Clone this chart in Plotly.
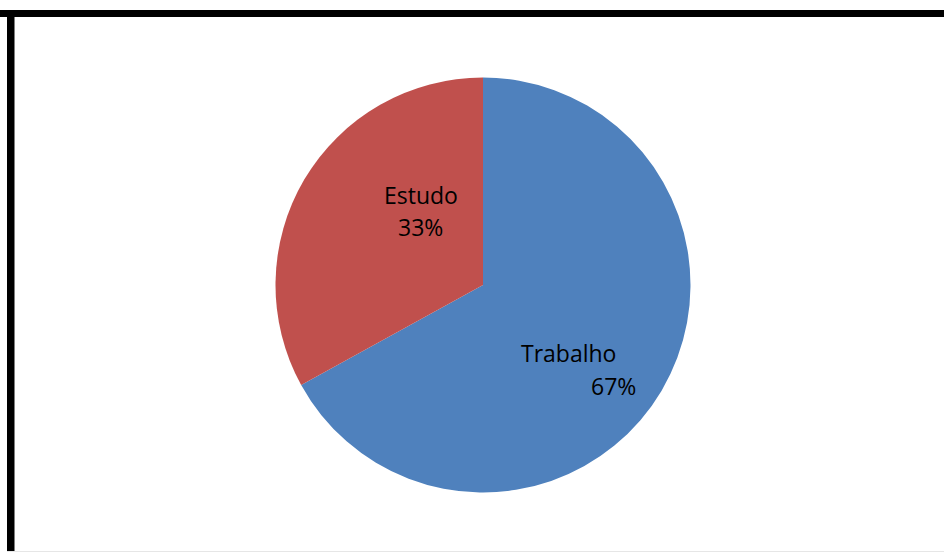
import plotly.graph_objects as go

# Share of time: work vs. study
categories = ["Trabalho", "Estudo"]
values = [67, 33]
colors = ["#4F81BD", "#C0504D"]

W, H = 944, 552
cx, cy, r = 483, 285, 207.5  # pie centre and radius in pixels


def px_x(x):
    return x / W


def px_y(y):
    return 1 - y / H


fig = go.Figure(
    go.Pie(
        labels=categories,
        values=values,
        marker=dict(colors=colors, line=dict(width=0)),
        sort=False,
        direction="clockwise",
        rotation=0,
        textinfo="none",
        hoverinfo="label+percent",
        showlegend=False,
        domain=dict(x=[px_x(cx - r), px_x(cx + r)], y=[px_y(cy + r), px_y(cy - r)]),
    )
)

total = sum(values)
pct = {c: f"{round(v / total * 100)}%" for c, v in zip(categories, values)}
label_font = dict(family="Open Sans, Noto Sans, sans-serif", size=23, color="#000000")

# Data labels: category name and percentage, one line each
label_pos = {
    "Estudo": ((421, 195), (420, 227)),
    "Trabalho": ((568, 353), (613, 386)),
}
for cat in categories:
    (nx, ny), (vx, vy) = label_pos[cat]
    fig.add_annotation(x=px_x(nx), y=px_y(ny), xref="paper", yref="paper",
                       text=cat, showarrow=False, font=label_font,
                       xanchor="center", yanchor="middle")
    fig.add_annotation(x=px_x(vx), y=px_y(vy), xref="paper", yref="paper",
                       text=pct[cat], showarrow=False, font=label_font,
                       xanchor="center", yanchor="middle")

# Frame: heavy top and left rules, faint bottom edge
fig.add_shape(type="rect", xref="paper", yref="paper",
              x0=0, x1=1, y0=px_y(17), y1=px_y(10),
              fillcolor="#000000", line=dict(width=0))
fig.add_shape(type="rect", xref="paper", yref="paper",
              x0=px_x(7), x1=px_x(14.5), y0=0, y1=px_y(10),
              fillcolor="#000000", line=dict(width=0))
fig.add_shape(type="line", xref="paper", yref="paper",
              x0=px_x(7), x1=1, y0=px_y(551.5), y1=px_y(551.5),
              line=dict(color="#E6E6E6", width=1))

fig.update_layout(
    width=W, height=H,
    margin=dict(l=0, r=0, t=0, b=0),
    paper_bgcolor="#FFFFFF",
    plot_bgcolor="#FFFFFF",
)

fig.write_html("out.html")
